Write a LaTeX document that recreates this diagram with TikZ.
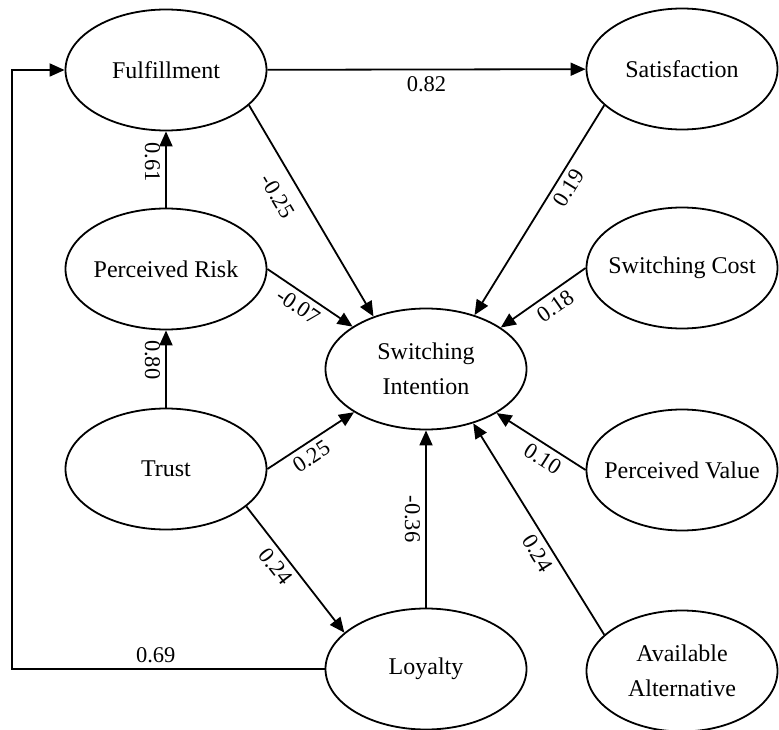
\documentclass[tikz,border=0pt]{standalone}
\usepackage{fontspec}
\setmainfont{Liberation Serif}
\usetikzlibrary{arrows.meta, shapes.geometric}

\begin{document}
\begin{tikzpicture}[
    x=1pt, y=-1pt,
    >={Triangle[length=15pt, width=13pt]},
    line width=1.8pt,
    construct/.style={ellipse, draw, minimum width=201pt, minimum height=121pt, inner xsep=-25pt, inner ysep=0pt, align=center, font=\fontsize{24}{35}\selectfont},
    side/.style={construct, minimum width=191pt},
    coef/.style={font=\fontsize{22.5}{26}\selectfont, inner sep=5pt}
]
\useasboundingbox (0,0) rectangle (779,730);

\node[construct] (ful) at (166,70) {Fulfillment};
\node[construct] (pr) at (166,269) {Perceived Risk};
\node[construct] (trust) at (166,469) {Trust};
\node[construct] (si) at (426,369) {Switching\\Intention};
\node[construct] (loy) at (426,669) {Loyalty};
\node[side] (sat) at (682,69) {Satisfaction};
\node[side] (sc) at (682,268) {Switching Cost};
\node[side] (pv) at (682,470) {Perceived Value};
\node[side] (aa) at (682,671) {Available\\Alternative};
\coordinate (corner) at (12,669);

\draw[->] (ful) -- node[coef, below=1pt] {0.82} (sat);
\draw[->] (pr) -- node[coef, pos=0.6, rotate=-90, anchor=north] {0.61} (ful);
\draw[->] (trust) -- node[coef, pos=0.62, rotate=-90, anchor=north] {0.80} (pr);
\draw[->] (ful.-23) -- node[coef, sloped, below=8pt, pos=0.38] {-0.25} (si.135);
\draw[->] (pr.east) -- node[coef, sloped, below, pos=0.45] {-0.07} (si.150);
\draw[->] (trust.east) -- node[coef, sloped, below, pos=0.42] {0.25} (si.211);
\draw[->] (trust.-25) -- node[coef, sloped, below, pos=0.41] {0.24} (loy.156);
\draw[->] (sat.205) -- node[coef, sloped, below, pos=0.36] {0.19} (si.48);
\draw[->] (sc.west) -- node[coef, sloped, below, pos=0.45] {0.18} (si.29);
\draw[->] (pv.west) -- node[coef, sloped, below, pos=0.4] {0.10} (si.-32);
\draw[->] (aa.155) -- node[coef, sloped, below, pos=0.42] {0.24} (si.-49);
\draw[->] (loy) -- node[coef, midway, rotate=-90, anchor=north] {-0.36} (si);
\draw[->] (loy.west) -- node[coef, above, pos=0.54] {0.69} (corner) |- (ful.west);
\end{tikzpicture}
\end{document}
